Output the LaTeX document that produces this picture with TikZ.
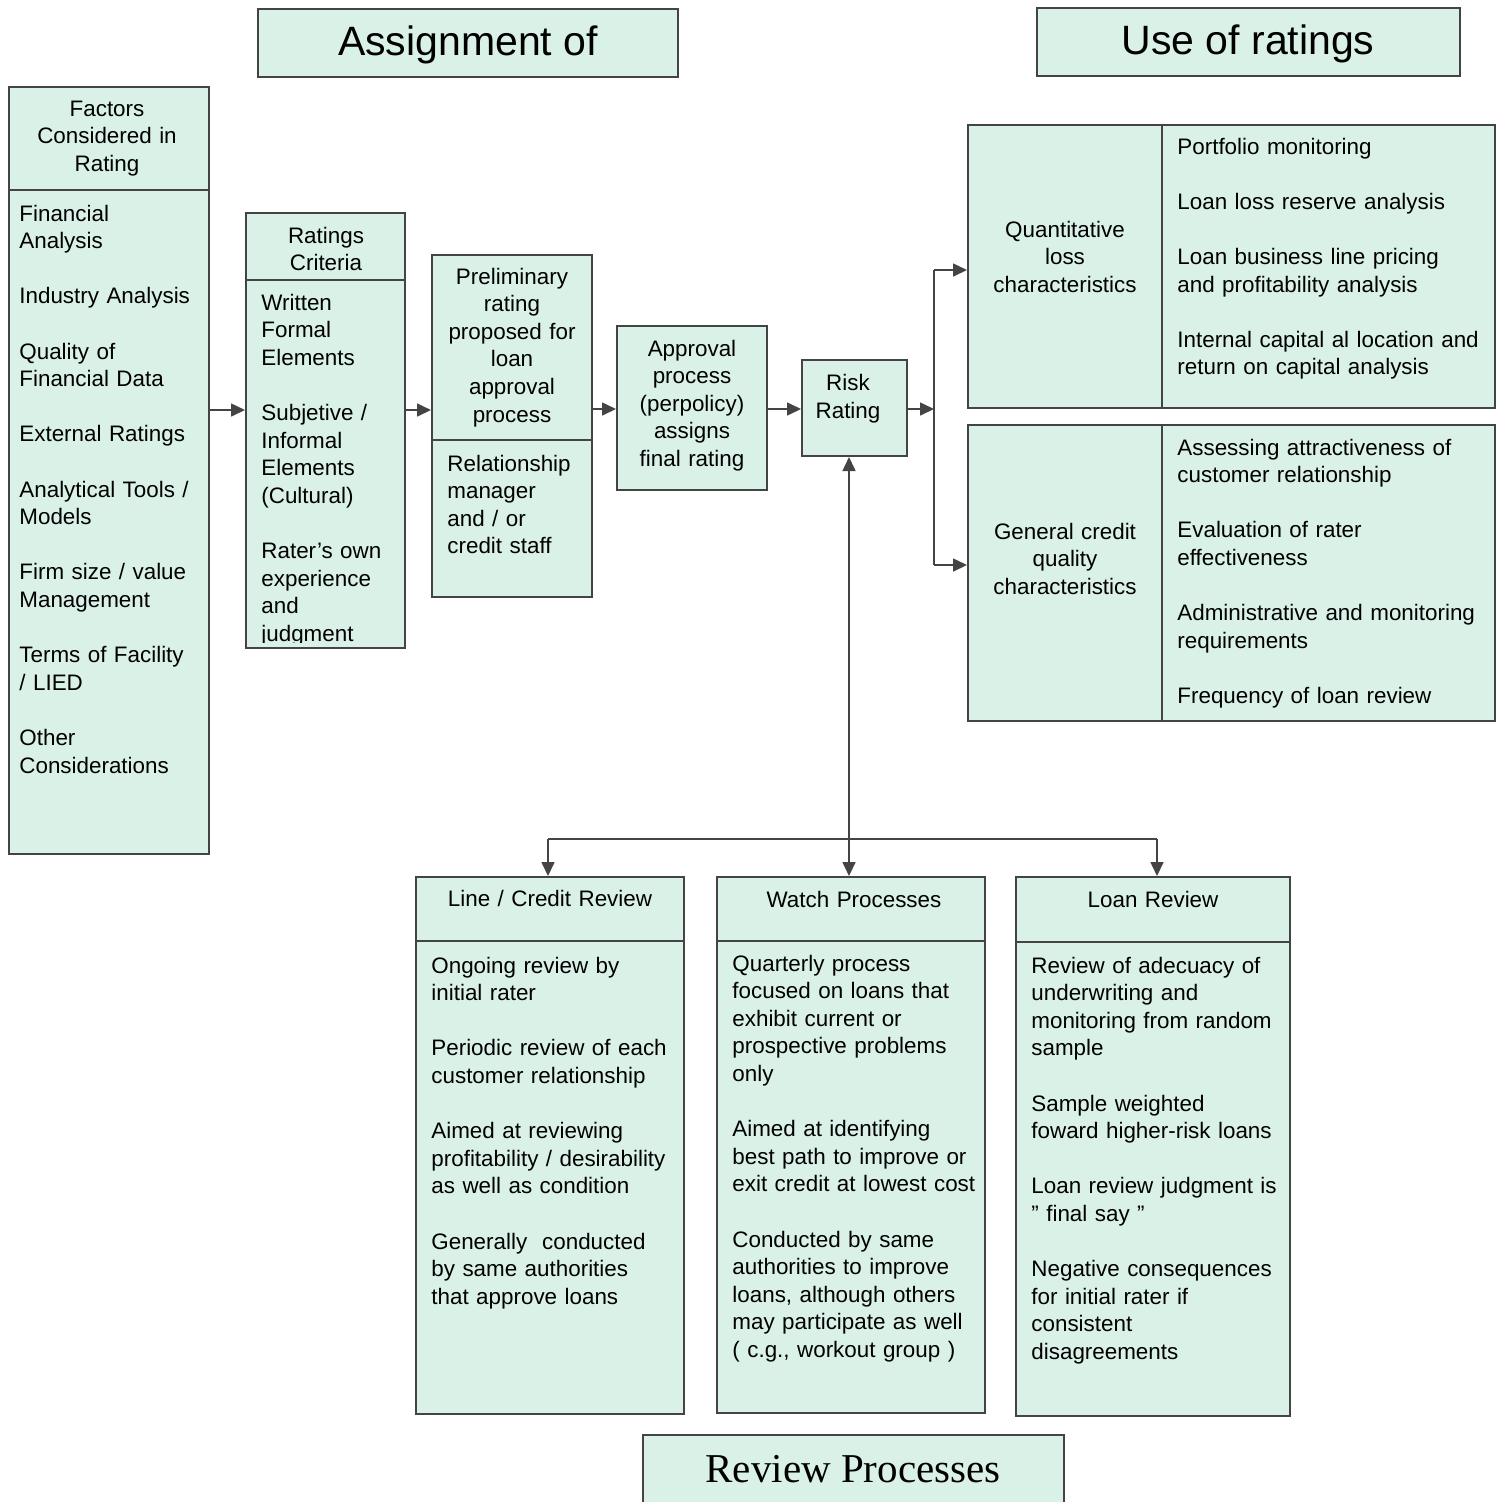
\documentclass[tikz,border=0pt]{standalone}
\usepackage{fontspec}
\setmainfont{Liberation Sans}
\newfontfamily\revfont{Liberation Serif}
\usetikzlibrary{fit,arrows.meta}
\definecolor{mint}{RGB}{218,241,232}
\definecolor{edge}{RGB}{68,68,68}
\begin{document}
\begin{tikzpicture}[x=0.5pt,y=-0.5pt,
  box/.style={draw=edge,line width=1pt,fill=mint,inner sep=0pt},
  sep/.style={draw=edge,line width=1pt},
  bd/.style={font=\fontsize{11.2}{13.8}\selectfont,inner sep=0pt,anchor=north west,align=left,text width=180pt},
  hd/.style={font=\fontsize{11.2}{13.8}\selectfont,inner sep=0pt,anchor=north,align=center,text width=#1},
  ttl/.style={font=\fontsize{20.5}{24}\selectfont,inner sep=0pt,anchor=base},
  arr/.style={draw=edge,line width=0.8pt,-{Triangle[length=7pt,width=6.5pt]}},
  ln/.style={draw=edge,line width=0.8pt}]
\useasboundingbox (0,0) rectangle (1502,1501);

% titles
\node[box,fit={(258,9)(678,77)}] (t1) {};
\node[ttl] (t1t) at (468,55) {Assignment of};
\node[box,fit={(1037,8)(1460,76)}] (t2) {};
\node[ttl] (t2t) at (1248,54) {Use of ratings};
\node[box,fit={(643,1435)(1064,1510)}] (t3) {};
\node[ttl,font=\revfont\fontsize{20.5}{24}\selectfont] (t3t) at (853,1482) {Review Processes};

% factors
\node[box,fit={(9,87)(209,854)}] (fac) {};
\draw[sep] (9,190) -- (209,190);
\node[hd=100pt] (facH) at (107,100.5) {Factors\\Considered in\\Rating};
\node[bd] (facB) at (19,204.5) {Financial\\Analysis\\[13.8pt]Industry Analysis\\[13.8pt]Quality of\\Financial Data\\[13.8pt]External Ratings\\[13.8pt]Analytical Tools /\\Models\\[13.8pt]Firm size / value\\Management\\[13.8pt]Terms of Facility\\/ LIED\\[13.8pt]Other\\Considerations};

% ratings criteria
\node[box,fit={(246,213)(405,648)}] (rc) {};
\draw[sep] (246,280) -- (405,280);
\node[hd=80pt] (rcH) at (326,226.5) {Ratings\\Criteria};
\begin{scope}
\clip (246,281) rectangle (405,642);
\node[bd] (rcB) at (261,293.5) {Written\\Formal\\Elements\\[13.8pt]Subjetive /\\Informal\\Elements\\(Cultural)\\[13.8pt]Rater's own\\experience\\and\\judgment};
\end{scope}

% preliminary
\node[box,fit={(432,255)(592,597)}] (pr) {};
\draw[sep] (432,440) -- (592,440);
\node[hd=80pt] (prH) at (512,267.5) {Preliminary\\rating\\proposed for\\loan\\approval\\process};
\node[bd] (prB) at (447,454.5) {Relationship\\manager\\and / or\\credit staff};

% approval
\node[box,fit={(617,326)(767,490)}] (ap) {};
\node[hd=75pt] (apT) at (692,339.5) {Approval\\process\\(perpolicy)\\assigns\\final rating};

% risk rating
\node[box,fit={(802,360)(907,456)}] (risk) {};
\node[hd=52pt] (riskT) at (848,374) {Risk\\Rating};

% quantitative
\node[box,fit={(968,125)(1495,408)}] (qt) {};
\draw[sep] (1162,125) -- (1162,408);
\node[hd=97pt] (qtL) at (1065,220.5) {Quantitative\\loss\\characteristics};
\node[bd] (qtR) at (1177,137.5) {Portfolio monitoring\\[13.8pt]Loan loss reserve analysis\\[13.8pt]Loan business line pricing\\and profitability analysis\\[13.8pt]Internal capital al location and\\return on capital analysis};

% general
\node[box,fit={(968,425)(1495,721)}] (gc) {};
\draw[sep] (1162,425) -- (1162,721);
\node[hd=97pt] (gcL) at (1065,522.5) {General credit\\quality\\characteristics};
\node[bd] (gcR) at (1177,438.5) {Assessing attractiveness of\\customer relationship\\[13.8pt]Evaluation of rater\\effectiveness\\[13.8pt]Administrative and monitoring\\requirements\\[13.8pt]Frequency of loan review};

% line / credit review
\node[box,fit={(416,877)(684,1414)}] (lc) {};
\draw[sep] (416,941) -- (684,941);
\node[hd=134pt] (lcH) at (550,889.5) {Line / Credit Review};
\node[bd] (lcB) at (431,956.5) {Ongoing review by\\initial rater\\[13.8pt]Periodic review of each\\customer relationship\\[13.8pt]Aimed at reviewing\\profitability / desirability\\as well as condition\\[13.8pt]Generally~ conducted\\by same authorities\\that approve loans};

% watch processes
\node[box,fit={(717,877)(985,1413)}] (wp) {};
\draw[sep] (717,941) -- (985,941);
\node[hd=134pt] (wpH) at (854,890.5) {Watch Processes};
\node[bd] (wpB) at (732,954.5) {Quarterly process\\focused on loans that\\exhibit current or\\prospective problems\\only\\[13.8pt]Aimed at identifying\\best path to improve or\\exit credit at lowest cost\\[13.8pt]Conducted by same\\authorities to improve\\loans, although others\\may participate as well\\( c.g., workout group )};

% loan review
\node[box,fit={(1016,877)(1290,1416)}] (lr) {};
\draw[sep] (1016,942) -- (1290,942);
\node[hd=137pt] (lrH) at (1153,890.5) {Loan Review};
\node[bd] (lrB) at (1031,956.5) {Review of adecuacy of\\underwriting and\\monitoring from random\\sample\\[13.8pt]Sample weighted\\foward higher-risk loans\\[13.8pt]Loan review judgment is\\{\char34} final say {\char34}\\[13.8pt]Negative consequences\\for initial rater if\\consistent\\disagreements};

% connectors
\coordinate (row) at (0,410);
\coordinate (row2) at (0,409);
\draw[arr] (fac.east |- row) -- (rc.west |- row);
\draw[arr] (rc.east |- row) -- (pr.west |- row);
\draw[arr] (pr.east |- row2) -- (ap.west |- row2);
\draw[arr] (ap.east |- row2) -- (risk.west |- row2);
\coordinate (jn) at (934,409);
\coordinate (ju) at (934,270);
\coordinate (jd) at (934,565);
\draw[arr] (risk.east |- jn) -- (jn);
\draw[ln] (ju) -- (jd);
\draw[arr] (ju) -- (qt.west |- ju);
\draw[arr] (jd) -- (gc.west |- jd);
\coordinate (hb) at (849,839);
\coordinate (hl) at (548,839);
\coordinate (hr) at (1157,839);
\draw[ln] (hl) -- (hr);
\draw[arr] (hb) -- (risk.south -| hb);
\draw[arr] (hb) -- (wp.north -| hb);
\draw[arr] (hl) -- (lc.north -| hl);
\draw[arr] (hr) -- (lr.north -| hr);
\end{tikzpicture}
\end{document}
